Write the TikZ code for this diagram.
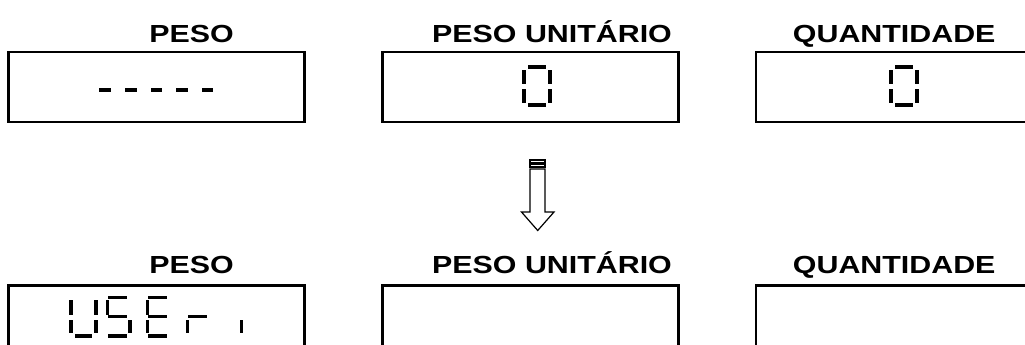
\documentclass[tikz,border=0pt]{standalone}
\usepackage{fontspec}
\usepackage{graphicx}
\setmainfont{Liberation Sans}
\newcommand\segbar[4]{\fill (#1,#2) rectangle (#3,#4);}
\tikzset{
  lbl/.style={font=\fontsize{24.7}{28}\selectfont\bfseries, inner sep=0pt, anchor=base},
  dispbox/.style={draw, line width=2.5pt, minimum width=296pt, inner sep=0pt},
  blockarrow/.style={draw, line width=1.2pt, fill=white, line join=miter}
}
\newcommand\wlbl[1]{\scalebox{1.23}[1]{#1}}
\begin{document}
\begin{tikzpicture}[x=1pt,y=-1pt]
\clip (0,0) rectangle (1025,345);
\fill[white] (0,0) rectangle (1025,345);
% labels top
\node[lbl] (l1) at (191.5,42.5) {\wlbl{PESO}};
\node[lbl] (l2) at (552,42.5) {\wlbl{PESO UNITÁRIO}};
\node[lbl] (l3) at (894.2,42.5) {\wlbl{QUANTIDADE}};
% boxes top
\node[dispbox, minimum height=70pt] (b1) at (156.4,87) {};
\node[dispbox, minimum height=70pt] (b2) at (530.3,87) {};
\node[dispbox, minimum height=70pt] (b3) at (904,87) {};
% labels bottom
\node[lbl] (l4) at (191.5,273.5) {\wlbl{PESO}};
\node[lbl] (l5) at (552,273.5) {\wlbl{PESO UNITÁRIO}};
\node[lbl] (l6) at (894.2,273.5) {\wlbl{QUANTIDADE}};
% boxes bottom
\node[dispbox, minimum height=100pt] (b4) at (156.4,335.3) {};
\node[dispbox, minimum height=100pt] (b5) at (530.3,335.3) {};
\node[dispbox, minimum height=100pt] (b6) at (904,335.3) {};
% dashes
\foreach \xx in {99.3,125,150.7,176,201.7}{
  \fill (\xx,87.7) rectangle ++(11.7,4.6);
}
% zeros
\foreach \dx in {0,366.5}{
  \begin{scope}[xshift=\dx]
    \segbar{528.3}{65.5}{546}{68.8}
    \segbar{522.3}{70}{526}{84}
    \segbar{548.3}{70}{552.3}{84}
    \segbar{522.3}{89.3}{526}{102.7}
    \segbar{548.3}{89.3}{552.3}{102.7}
    \segbar{528.3}{103.3}{546}{106.7}
  \end{scope}
}
% USEr i
% U
\segbar{69}{300}{72.7}{315}
\segbar{69}{320}{72.7}{333.3}
\segbar{94.3}{300}{97.7}{315}
\segbar{94.3}{320}{97.7}{333.3}
\segbar{75}{334}{92.3}{337.7}
% S
\segbar{108.3}{295.7}{126.7}{299}
\segbar{105.7}{300}{109.3}{315}
\segbar{108.3}{315}{126.7}{318.3}
\segbar{128.3}{320}{131.7}{333.3}
\segbar{108.3}{334}{126.7}{337.7}
% E
\segbar{148.3}{295.7}{166.7}{299}
\segbar{145.7}{300}{149.3}{315}
\segbar{148.3}{315}{166.7}{318.3}
\segbar{145.7}{320}{149.3}{333.3}
\segbar{148.3}{334}{166.7}{337.7}
% r
\segbar{188.3}{315}{206.7}{318.3}
\segbar{185.7}{320}{189.3}{333.3}
% i
\segbar{240}{320}{243.3}{333.3}
% arrow
\coordinate (at) at (537.7,160);
\coordinate (tip) at (537.7,230.5);
\draw[blockarrow] (530,169) -- (545,169) -- (545,212) -- (554,212) -- (tip) -- (521.5,212) -- (530,212) -- cycle;
\draw[blockarrow] (530,160) rectangle (545,163);
\draw[blockarrow] (530,164.5) rectangle (545,167);
\end{tikzpicture}
\end{document}
